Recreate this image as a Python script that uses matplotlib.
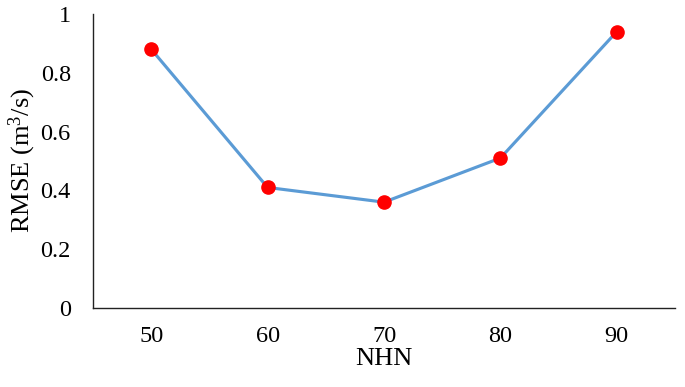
import matplotlib
matplotlib.use("Agg")
import matplotlib.pyplot as plt

categories = ["50", "60", "70", "80", "90"]
rmse = [0.88, 0.41, 0.36, 0.51, 0.94]
yticks = [0, 0.2, 0.4, 0.6, 0.8, 1]
ytick_labels = ["0", "0.2", "0.4", "0.6", "0.8", "1"]

plt.rcParams['font.family'] = ['Liberation Serif', 'DejaVu Serif']
plt.rcParams['mathtext.fontset'] = 'custom'
plt.rcParams['mathtext.rm'] = 'Liberation Serif'
plt.rcParams['mathtext.it'] = 'Liberation Serif:italic'

fig = plt.figure(figsize=(6.85, 3.87), dpi=100)
ax = fig.add_axes([0.1358, 0.204, 0.8496, 0.760])

x = list(range(len(categories)))
ax.plot(x, rmse, color='#5B9BD5', linewidth=2.25, marker='o', markersize=9.5,
        markerfacecolor='#FF0000', markeredgecolor='#FF0000', zorder=3, clip_on=False)

ax.set_xlim(-0.5, len(categories) - 0.5)
ax.set_ylim(0, 1)
ax.set_xticks(x)
ax.set_xticklabels(categories)
ax.set_yticks(yticks)
ax.set_yticklabels(ytick_labels)
ax.tick_params(axis='both', length=0, labelsize=17.5)
ax.tick_params(axis='y', pad=16)
ax.tick_params(axis='x', pad=13)

for s in ['top', 'right']:
    ax.spines[s].set_visible(False)
for s in ['left', 'bottom']:
    ax.spines[s].set_linewidth(1.0)
    ax.spines[s].set_color('#222222')

ax.set_xlabel('NHN', fontsize=19, labelpad=1)
ax.set_ylabel('RMSE (m$^3$/s)', fontsize=19, labelpad=2)

fig.savefig('out.png', dpi=100)
